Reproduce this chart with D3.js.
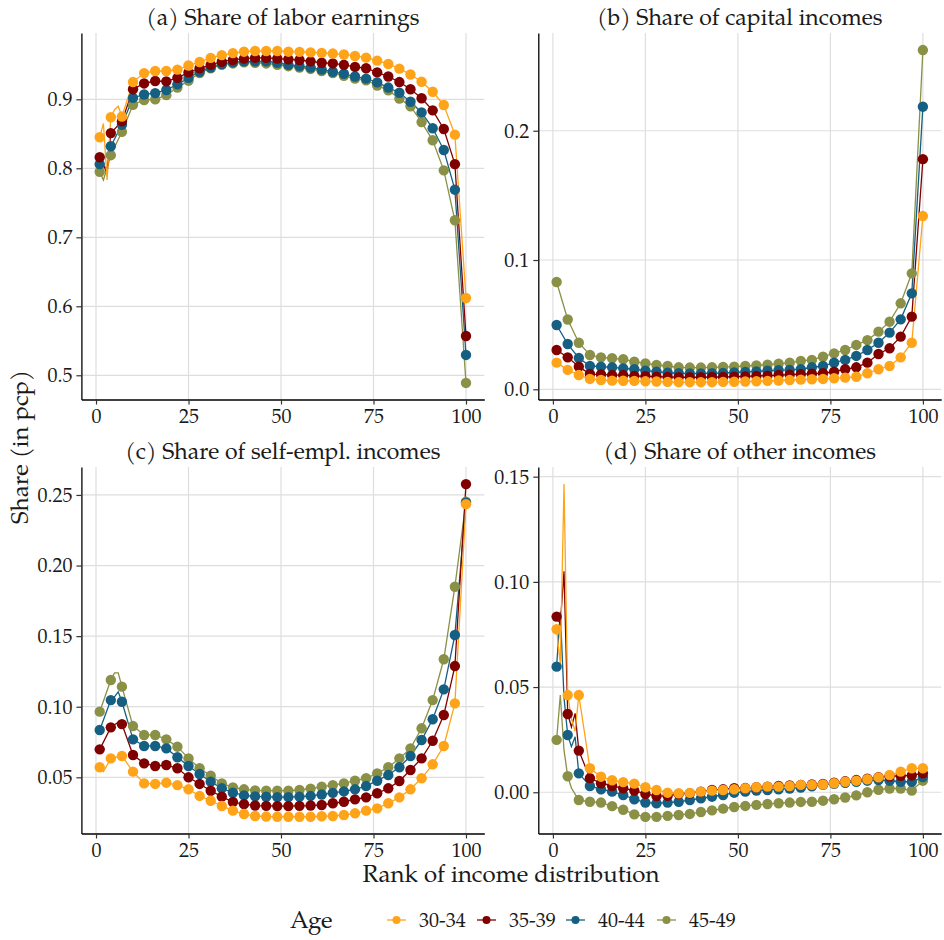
<!DOCTYPE html>
<html>
<head>
<meta charset="utf-8">
<script src="https://cdn.jsdelivr.net/npm/d3@7"></script>
<style>
  body { margin: 0; background: #fff; }
  svg { display: block; }
  text { font-family: "TeX Gyre Pagella", "Palatino Linotype", Palatino, "Liberation Serif", serif; fill: #1a1a1a; }
</style>
</head>
<body>
<svg id="chart" width="944" height="940"></svg>
<script>
// Ranks that carry a marker (every third percentile)
const dotRanks = [1, 4, 7, 10, 13, 16, 19, 22, 25, 28, 31, 34, 37, 40, 43, 46, 49,
                  52, 55, 58, 61, 64, 67, 70, 73, 76, 79, 82, 85, 88, 91, 94, 97, 100];
const ageGroups = ["30-34", "35-39", "40-44", "45-49"];
const ageColors = ["#FFA319", "#800000", "#155F83", "#8A9045"];
const rankTicks = [0, 25, 50, 75, 100];

// (a) labor earnings share, one row per age group
const laborShares = [
  [0.845, 0.874, 0.875, 0.925, 0.938, 0.941, 0.941, 0.943, 0.949, 0.954, 0.960, 0.964, 0.967, 0.969, 0.970, 0.970, 0.970,
   0.969, 0.9688, 0.968, 0.9673, 0.9663, 0.965, 0.9628, 0.9604, 0.956, 0.9512, 0.9444, 0.936, 0.9255, 0.911, 0.8917, 0.8488, 0.612],
  [0.816, 0.851, 0.868, 0.9145, 0.923, 0.9265, 0.926, 0.931, 0.939, 0.945, 0.950, 0.9545, 0.957, 0.959, 0.960, 0.960, 0.959,
   0.958, 0.957, 0.955, 0.953, 0.952, 0.950, 0.947, 0.945, 0.939, 0.933, 0.925, 0.9145, 0.9015, 0.884, 0.857, 0.806, 0.557],
  [0.806, 0.832, 0.863, 0.902, 0.907, 0.909, 0.9135, 0.9217, 0.931, 0.940, 0.946, 0.951, 0.9535, 0.955, 0.955, 0.955, 0.953,
   0.950, 0.948, 0.946, 0.943, 0.940, 0.937, 0.933, 0.930, 0.9245, 0.917, 0.9095, 0.8965, 0.881, 0.858, 0.8265, 0.769, 0.5295],
  [0.795, 0.819, 0.853, 0.892, 0.899, 0.900, 0.906, 0.917, 0.927, 0.938, 0.945, 0.950, 0.952, 0.9535, 0.953, 0.952, 0.950,
   0.948, 0.946, 0.944, 0.941, 0.938, 0.934, 0.930, 0.9276, 0.920, 0.913, 0.901, 0.890, 0.867, 0.8406, 0.797, 0.7247, 0.4889]
];
// percentiles between markers where the line visibly departs
const laborBetween = [
  [[2, 0.865], [3, 0.783], [5, 0.885], [6, 0.89]],
  [[3, 0.793]],
  [[3, 0.80]],
  [[2, 0.783]]
];

// (b) capital income share
const capitalShares = [
  [0.0206, 0.015, 0.011, 0.008, 0.0072, 0.0067, 0.0066, 0.0065, 0.0062, 0.006, 0.0057, 0.0055, 0.0055, 0.0055, 0.0055, 0.0057, 0.0058,
   0.006, 0.0062, 0.0065, 0.0068, 0.0072, 0.0075, 0.0078, 0.008, 0.0085, 0.009, 0.0097, 0.0124, 0.0155, 0.018, 0.0247, 0.036, 0.134],
  [0.0304, 0.0247, 0.0175, 0.0118, 0.0115, 0.011, 0.011, 0.0103, 0.0101, 0.0098, 0.0096, 0.0093, 0.0093, 0.0093, 0.0095, 0.0095, 0.0098,
   0.010, 0.0103, 0.0106, 0.011, 0.0113, 0.0117, 0.012, 0.0124, 0.0136, 0.0155, 0.017, 0.0206, 0.0273, 0.0317, 0.0407, 0.0562, 0.178],
  [0.0497, 0.035, 0.0242, 0.018, 0.0175, 0.017, 0.0162, 0.0155, 0.0144, 0.0136, 0.0128, 0.0124, 0.0122, 0.0122, 0.0124, 0.0126, 0.013,
   0.0134, 0.0138, 0.0143, 0.0148, 0.015, 0.0155, 0.017, 0.018, 0.0206, 0.0227, 0.0258, 0.0304, 0.036, 0.0438, 0.0541, 0.0742, 0.2186],
  [0.083, 0.054, 0.036, 0.0265, 0.0247, 0.024, 0.0232, 0.0213, 0.020, 0.0188, 0.018, 0.017, 0.0168, 0.0168, 0.017, 0.0172, 0.0175,
   0.018, 0.0185, 0.019, 0.0198, 0.0205, 0.022, 0.0227, 0.0252, 0.0278, 0.0304, 0.0343, 0.038, 0.0446, 0.0523, 0.0665, 0.0897, 0.2624]
];
const capitalBetween = [[], [], [], []];

// (c) self-employment income share
const selfEmplShares = [
  [0.0571, 0.0634, 0.0651, 0.054, 0.0457, 0.0453, 0.0462, 0.0445, 0.0415, 0.0368, 0.0334, 0.0297, 0.0264, 0.024, 0.0226, 0.0222, 0.0221,
   0.0221, 0.0221, 0.0221, 0.0224, 0.0226, 0.0233, 0.0245, 0.0264, 0.028, 0.0316, 0.0358, 0.0415, 0.0493, 0.0592, 0.0722, 0.1024, 0.2435],
  [0.0698, 0.0854, 0.0877, 0.0658, 0.0599, 0.058, 0.0587, 0.0564, 0.050, 0.0453, 0.0405, 0.0363, 0.0325, 0.031, 0.030, 0.0298, 0.0296,
   0.0296, 0.0298, 0.030, 0.0304, 0.0316, 0.0327, 0.0344, 0.0358, 0.0387, 0.0422, 0.0474, 0.0552, 0.0634, 0.0759, 0.0941, 0.1288, 0.2577],
  [0.0835, 0.1047, 0.1035, 0.0769, 0.0722, 0.0722, 0.0705, 0.0642, 0.058, 0.0523, 0.0469, 0.0422, 0.0391, 0.0372, 0.0365, 0.0362, 0.036,
   0.036, 0.0363, 0.0368, 0.0378, 0.039, 0.040, 0.0415, 0.0438, 0.0476, 0.0516, 0.0571, 0.0651, 0.0764, 0.0911, 0.1123, 0.1508, 0.2445],
  [0.0965, 0.1189, 0.1142, 0.0863, 0.080, 0.080, 0.0769, 0.0717, 0.0634, 0.0564, 0.0511, 0.0457, 0.0429, 0.0415, 0.0407, 0.0405, 0.0405,
   0.0405, 0.041, 0.042, 0.0433, 0.0445, 0.0457, 0.0476, 0.0493, 0.0528, 0.0571, 0.0634, 0.0705, 0.0847, 0.1047, 0.1336, 0.185, 0.2452]
];
const selfEmplBetween = [
  [[2, 0.054]],
  [[6, 0.089]],
  [[5, 0.107], [6, 0.1106]],
  [[5, 0.124], [6, 0.124]]
];

// (d) other income share
const otherShares = [
  [0.0775, 0.0462, 0.0462, 0.0114, 0.0074, 0.0057, 0.0048, 0.0041, 0.0024, 0.0011, -0.0002, -0.0005, -0.0003, 0.0003, 0.0008, 0.0011, 0.0014,
   0.0019, 0.0024, 0.0027, 0.0027, 0.003, 0.0035, 0.0035, 0.0037, 0.0043, 0.005, 0.0055, 0.0062, 0.0071, 0.0082, 0.0098, 0.0114, 0.0114],
  [0.0835, 0.0372, 0.0198, 0.0067, 0.0043, 0.003, 0.0019, 0.0008, -0.0008, -0.0018, -0.0017, -0.0008, -0.0005, 0.0003, 0.0011, 0.0014, 0.0019,
   0.002, 0.0024, 0.0027, 0.003, 0.0032, 0.0035, 0.0037, 0.004, 0.0045, 0.0052, 0.0058, 0.0065, 0.0072, 0.0076, 0.0078, 0.008, 0.009],
  [0.0597, 0.0272, 0.009, 0.003, 0.0014, 0.0003, -0.0013, -0.0033, -0.0049, -0.0052, -0.0049, -0.0045, -0.0037, -0.0029, -0.0021, -0.0013, -0.0002,
   0.0003, 0.0008, 0.0011, 0.0014, 0.0018, 0.0022, 0.0028, 0.0035, 0.004, 0.0045, 0.005, 0.0055, 0.0058, 0.0055, 0.005, 0.005, 0.0072],
  [0.0249, 0.0076, -0.0037, -0.0045, -0.0049, -0.0066, -0.0083, -0.0105, -0.0117, -0.0117, -0.0112, -0.0108, -0.0103, -0.0094, -0.0086, -0.0078, -0.007,
   -0.0065, -0.006, -0.0056, -0.0052, -0.0049, -0.0046, -0.0045, -0.004, -0.0033, -0.0025, -0.0015, 0.0, 0.0012, 0.0018, 0.0018, 0.0008, 0.0055]
];
const otherBetween = [
  [[2, 0.061], [3, 0.1465], [5, 0.035], [6, 0.029]],
  [[2, 0.08], [3, 0.105], [5, 0.031], [6, 0.0375]],
  [[2, 0.0858], [3, 0.045], [5, 0.0217], [6, 0.0264]],
  [[2, 0.0462], [3, 0.02], [5, 0.002]]
];

const panels = [
  { title: "(a) Share of labor earnings", dots: laborShares, between: laborBetween,
    yDomain: [0.4649, 0.9961], yTicks: [0.5, 0.6, 0.7, 0.8, 0.9], fmt: ".1f", col: 0, row: 0 },
  { title: "(b) Share of capital incomes", dots: capitalShares, between: capitalBetween,
    yDomain: [-0.0079, 0.2756], yTicks: [0.0, 0.1, 0.2], fmt: ".1f", col: 1, row: 0 },
  { title: "(c) Share of self-empl. incomes", dots: selfEmplShares, between: selfEmplBetween,
    yDomain: [0.0102, 0.2698], yTicks: [0.05, 0.10, 0.15, 0.20, 0.25], fmt: ".2f", col: 0, row: 1 },
  { title: "(d) Share of other incomes", dots: otherShares, between: otherBetween,
    yDomain: [-0.0196, 0.1546], yTicks: [0.00, 0.05, 0.10, 0.15], fmt: ".2f", col: 1, row: 1 }
];

const svg = d3.select("#chart");
const colX = [[81.4, 484.3], [538.3, 941.2]];
const rowY = [[33, 399.5], [467, 833.5]];
const gridColor = "#dedede";
const tickFont = 20;

panels.forEach(p => {
  const [x0, x1] = colX[p.col];
  const [y0, y1] = rowY[p.row];
  const x = d3.scaleLinear().domain([-3.95, 104.95]).range([x0, x1]);
  const y = d3.scaleLinear().domain(p.yDomain).range([y1, y0]);
  const g = svg.append("g");

  // grid
  g.append("g").selectAll("line").data(p.yTicks).join("line")
    .attr("x1", x0).attr("x2", x1).attr("y1", d => y(d)).attr("y2", d => y(d))
    .attr("stroke", gridColor).attr("stroke-width", 1.2);
  g.append("g").selectAll("line").data(rankTicks).join("line")
    .attr("y1", y0).attr("y2", y1).attr("x1", d => x(d)).attr("x2", d => x(d))
    .attr("stroke", gridColor).attr("stroke-width", 1.2);

  // strip title
  g.append("text").attr("x", (x0 + x1) / 2).attr("y", y0 - 8)
    .attr("text-anchor", "middle").style("font-size", "23px").text(p.title);

  // series: lines first, then markers; oldest group drawn first
  const order = [3, 2, 1, 0];
  const line = d3.line().x(d => x(d[0])).y(d => y(d[1]));
  order.forEach(i => {
    const pts = dotRanks.map((r, k) => [r, p.dots[i][k]]).concat(p.between[i])
      .sort((a, b) => a[0] - b[0]);
    g.append("path").datum(pts).attr("d", line)
      .attr("fill", "none").attr("stroke", ageColors[i]).attr("stroke-width", 1.3);
  });
  order.forEach(i => {
    g.append("g").selectAll("circle").data(dotRanks.map((r, k) => [r, p.dots[i][k]])).join("circle")
      .attr("cx", d => x(d[0])).attr("cy", d => y(d[1])).attr("r", 5.2)
      .attr("fill", ageColors[i]);
  });

  // axes
  const ay = g.append("g").attr("transform", `translate(${x0},0)`)
    .call(d3.axisLeft(y).tickValues(p.yTicks).tickFormat(d3.format(p.fmt)).tickSize(5).tickSizeOuter(0).tickPadding(4));
  const ax = g.append("g").attr("transform", `translate(0,${y1})`)
    .call(d3.axisBottom(x).tickValues(rankTicks).tickFormat(d3.format("d")).tickSize(5).tickSizeOuter(0).tickPadding(4));
  [ay, ax].forEach(a => {
    a.select(".domain").attr("stroke", "#000").attr("stroke-width", 1.3);
    a.selectAll(".tick line").attr("stroke", "#333").attr("stroke-width", 1.2);
    a.selectAll(".tick text").style("font-size", tickFont + "px")
      .style("font-family", null).attr("fill", "#1a1a1a");
  });
});

// axis titles
svg.append("text").attr("x", 511).attr("y", 882).attr("text-anchor", "middle")
  .style("font-size", "24px").text("Rank of income distribution");
svg.append("text").attr("transform", "translate(28,447) rotate(-90)").attr("text-anchor", "middle")
  .style("font-size", "24px").text("Share (in pcp)");

// legend
const legendY = 920;
svg.append("text").attr("x", 290).attr("y", legendY + 8).style("font-size", "24px").text("Age");
const keyX = [387, 477, 566, 657];
ageGroups.forEach((lab, i) => {
  const lg = svg.append("g").attr("transform", `translate(${keyX[i]},${legendY})`);
  lg.append("line").attr("x1", 0).attr("x2", 19).attr("stroke", ageColors[i]).attr("stroke-width", 1.3);
  lg.append("circle").attr("cx", 9.5).attr("r", 4).attr("fill", ageColors[i]);
  lg.append("text").attr("x", 32).attr("y", 7).style("font-size", "20px").text(lab);
});
</script>
</body>
</html>
